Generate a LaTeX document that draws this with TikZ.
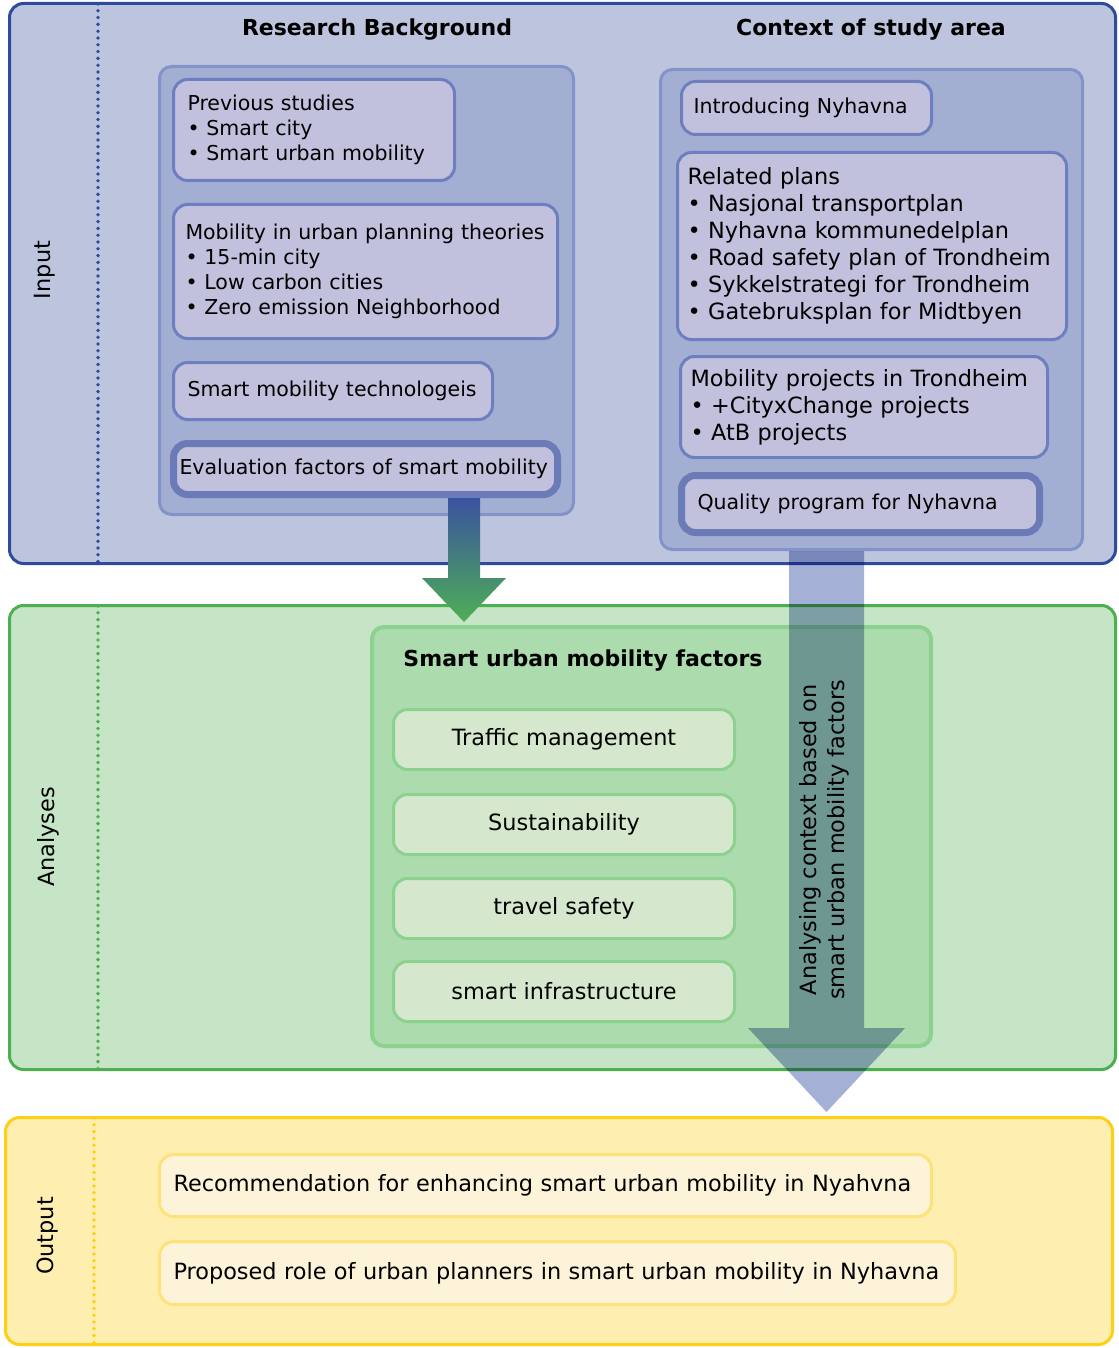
\documentclass[tikz,border=0pt]{standalone}
\usepackage{fontspec}
\setmainfont{DejaVu Sans}
\usepackage{xcolor}
\usetikzlibrary{positioning, calc}

\definecolor{inband}{HTML}{BDC5DE}
\definecolor{inedge}{HTML}{2F4B9B}
\definecolor{ingroup}{HTML}{A3AED3}
\definecolor{ingroupedge}{HTML}{8392C9}
\definecolor{inbox}{HTML}{C1C1DE}
\definecolor{inboxedge}{HTML}{6E7FC0}
\definecolor{inthick}{HTML}{6B7BB8}
\definecolor{anband}{HTML}{C5E5C6}
\definecolor{anedge}{HTML}{4CAF50}
\definecolor{angroup}{HTML}{ACDBAE}
\definecolor{anbox}{HTML}{D5E8CD}
\definecolor{anboxedge}{HTML}{8DD18F}
\definecolor{outband}{HTML}{FEEFB1}
\definecolor{outedge}{HTML}{FDD017}
\definecolor{outbox}{HTML}{FDF3D9}
\definecolor{outboxedge}{HTML}{FDE27A}
\definecolor{flowblue}{HTML}{3B52A0}
\definecolor{flowgreen}{HTML}{4DAF55}
\definecolor{ctxarrow}{HTML}{A4B0D6}

\newcommand{\txtsmall}{\fontsize{10.25}{12.5}\selectfont}
\newcommand{\txtnormal}{\fontsize{11.2}{13.5}\selectfont}

\begin{document}
\hyphenpenalty=10000
\begin{tikzpicture}[
    x=0.5pt, y=-0.5pt,
    band/.style={
        draw,
        line width=1.5pt,
        rounded corners=7pt,
        anchor=north west,
        inner sep=0pt
    },
    group/.style={
        draw,
        line width=1.5pt,
        rounded corners=6pt,
        anchor=north west,
        inner sep=0pt
    },
    ibox/.style={
        draw=inboxedge,
        fill=inbox,
        line width=1.5pt,
        rounded corners=7pt,
        anchor=north west,
        align=left,
        inner xsep=7pt,
        inner ysep=0pt,
        font=\txtsmall
    },
    thickbox/.style={
        ibox,
        draw=inthick,
        line width=3.5pt
    },
    abox/.style={
        draw=anboxedge,
        fill=anbox,
        line width=1.5pt,
        rounded corners=7pt,
        anchor=north west,
        align=center,
        minimum width=170.5pt,
        minimum height=30pt,
        inner sep=0pt,
        font=\txtnormal
    },
    obox/.style={
        draw=outboxedge,
        fill=outbox,
        line width=1.5pt,
        rounded corners=7pt,
        anchor=north west,
        align=left,
        inner xsep=7pt,
        inner ysep=0pt,
        font=\txtnormal
    },
    sidelabel/.style={rotate=90, font=\txtnormal},
    heading/.style={font=\fontsize{11}{13.5}\selectfont\bfseries},
    divider/.style={line width=1.9pt, line cap=round, dash pattern=on 0pt off 3.4pt}
]

\useasboundingbox (0,0) rectangle (1118,1348);

% ==========================================
% BANDS
% ==========================================
\node[band, draw=inedge, fill=inband, minimum width=553pt, minimum height=280pt] (input) at (8,2) {};
\node[band, draw=anedge, fill=anband, minimum width=553pt, minimum height=232pt] (analyses) at (8,604) {};
\node[band, draw=outedge, fill=outband, minimum width=553.5pt, minimum height=113.5pt] (output) at (4,1116) {};

% Dotted dividers
\draw[divider, inedge] (98,4) -- (98,563);
\draw[divider, anedge] (98,606) -- (98,1069);
\draw[divider, outedge] (94,1118) -- (94,1344);

% Side labels
\node[sidelabel] (inlabel) at (45,270) {Input};
\node[sidelabel] (anlabel) at (48,837) {Analyses};
\node[sidelabel] (outlabel) at (48,1236) {Output};

% ==========================================
% INPUT
% ==========================================
\node[heading] (bghead) at (377,30) {Research Background};
\node[heading] (ctxhead) at (871,30) {Context of study area};

% Research background
\node[group, draw=ingroupedge, fill=ingroup, minimum width=207pt, minimum height=224pt] (background) at (158,65) {};

\node[ibox, text width=126.5pt, minimum height=50.5pt] (prev) at (172,78)
    {Previous studies\\ • Smart city\\ • Smart urban mobility};
\node[ibox, inner xsep=6pt, text width=180pt, minimum height=67pt] (theory) at (172,203)
    {Mobility in urban planning theories\\ • 15-min city\\ • Low carbon cities\\ • Zero emission Neighborhood};
\node[ibox, text width=145.5pt, minimum height=28.5pt] (tech) at (172,361)
    {Smart mobility technologeis};
\node[thickbox, inner xsep=3pt, text width=186pt, minimum height=25.5pt] (evalbox) at (170,440)
    {Evaluation factors of smart mobility};

% Context of study area
\node[group, draw=ingroupedge, fill=ingroup, minimum width=211pt, minimum height=240pt] (context) at (659,68) {};

\node[ibox, inner xsep=6pt, text width=113pt, minimum height=26.5pt] (intro) at (680,80)
    {Introducing Nyhavna};
\node[ibox, font=\txtnormal, inner xsep=5pt, text width=184.5pt, minimum height=93.5pt] (plans) at (676,151)
    {Related plans\\ • Nasjonal transportplan\\ • Nyhavna kommunedelplan\\ • Road safety plan of Trondheim\\ • Sykkelstrategi for Trondheim\\ • Gatebruksplan for Midtbyen};
\node[ibox, font=\txtnormal, inner xsep=5pt, text width=173.5pt, minimum height=50.5pt] (projects) at (679,355)
    {Mobility projects in Trondheim\\ • +CityxChange projects\\ • AtB projects};
\node[thickbox, inner xsep=8pt, text width=163pt, minimum height=28.5pt] (quality) at (678,472)
    {Quality program for Nyhavna};

% ==========================================
% ANALYSES
% ==========================================
\node[group, draw=anboxedge, fill=angroup, line width=2pt, minimum width=279.5pt, minimum height=209.5pt] (factors) at (370,625) {};
\node[heading] (facthead) at (583,661) {Smart urban mobility factors};

\node[abox] (traffic) at (392,708) {Traffic management};
\node[abox] (sustain) at (392,793) {Sustainability};
\node[abox] (safety) at (392,877) {travel safety};
\node[abox] (infra) at (392,960) {smart infrastructure};

% ==========================================
% OUTPUT
% ==========================================
\node[obox, text width=372pt, minimum height=31pt] (recommend) at (158,1153)
    {Recommendation for enhancing smart urban mobility in Nyahvna};
\node[obox, text width=384pt, minimum height=31.5pt] (role) at (158,1240)
    {Proposed role of urban planners in smart urban mobility in Nyhavna};

% ==========================================
% FLOW ARROWS
% ==========================================
% Background -> factors
\coordinate (a1top) at ($(evalbox.south)+(98.5,0)$);
\coordinate (a1tip) at ($(a1top |- factors.north)+(0,-3)$);
\path[top color=flowblue, bottom color=flowgreen]
    ($(a1top)+(-16,0)$) -- ($(a1tip)+(-16,-44)$) -- ($(a1tip)+(-42,-44)$) -- (a1tip)
    -- ($(a1tip)+(42,-44)$) -- ($(a1tip)+(16,-44)$) -- ($(a1top)+(16,0)$) -- cycle;

% Context -> output
\coordinate (a2top) at ($(context.south)+(-45,0)$);
\coordinate (a2tip) at ($(a2top |- output.north)+(0,-4)$);
\fill[ctxarrow, blend mode=multiply]
    ($(a2top)+(-37.5,0)$) -- ($(a2tip)+(-37.5,-84)$) -- ($(a2tip)+(-78.5,-84)$) -- (a2tip)
    -- ($(a2tip)+(78.5,-84)$) -- ($(a2tip)+(37.5,-84)$) -- ($(a2top)+(37.5,0)$) -- cycle;

\node[rotate=90, align=center, font=\fontsize{11.2}{14}\selectfont] (ctxnote) at ($(a2top)+(-2,289)$)
    {Analysing context based on\\ smart urban mobility factors};

\end{tikzpicture}
\end{document}
